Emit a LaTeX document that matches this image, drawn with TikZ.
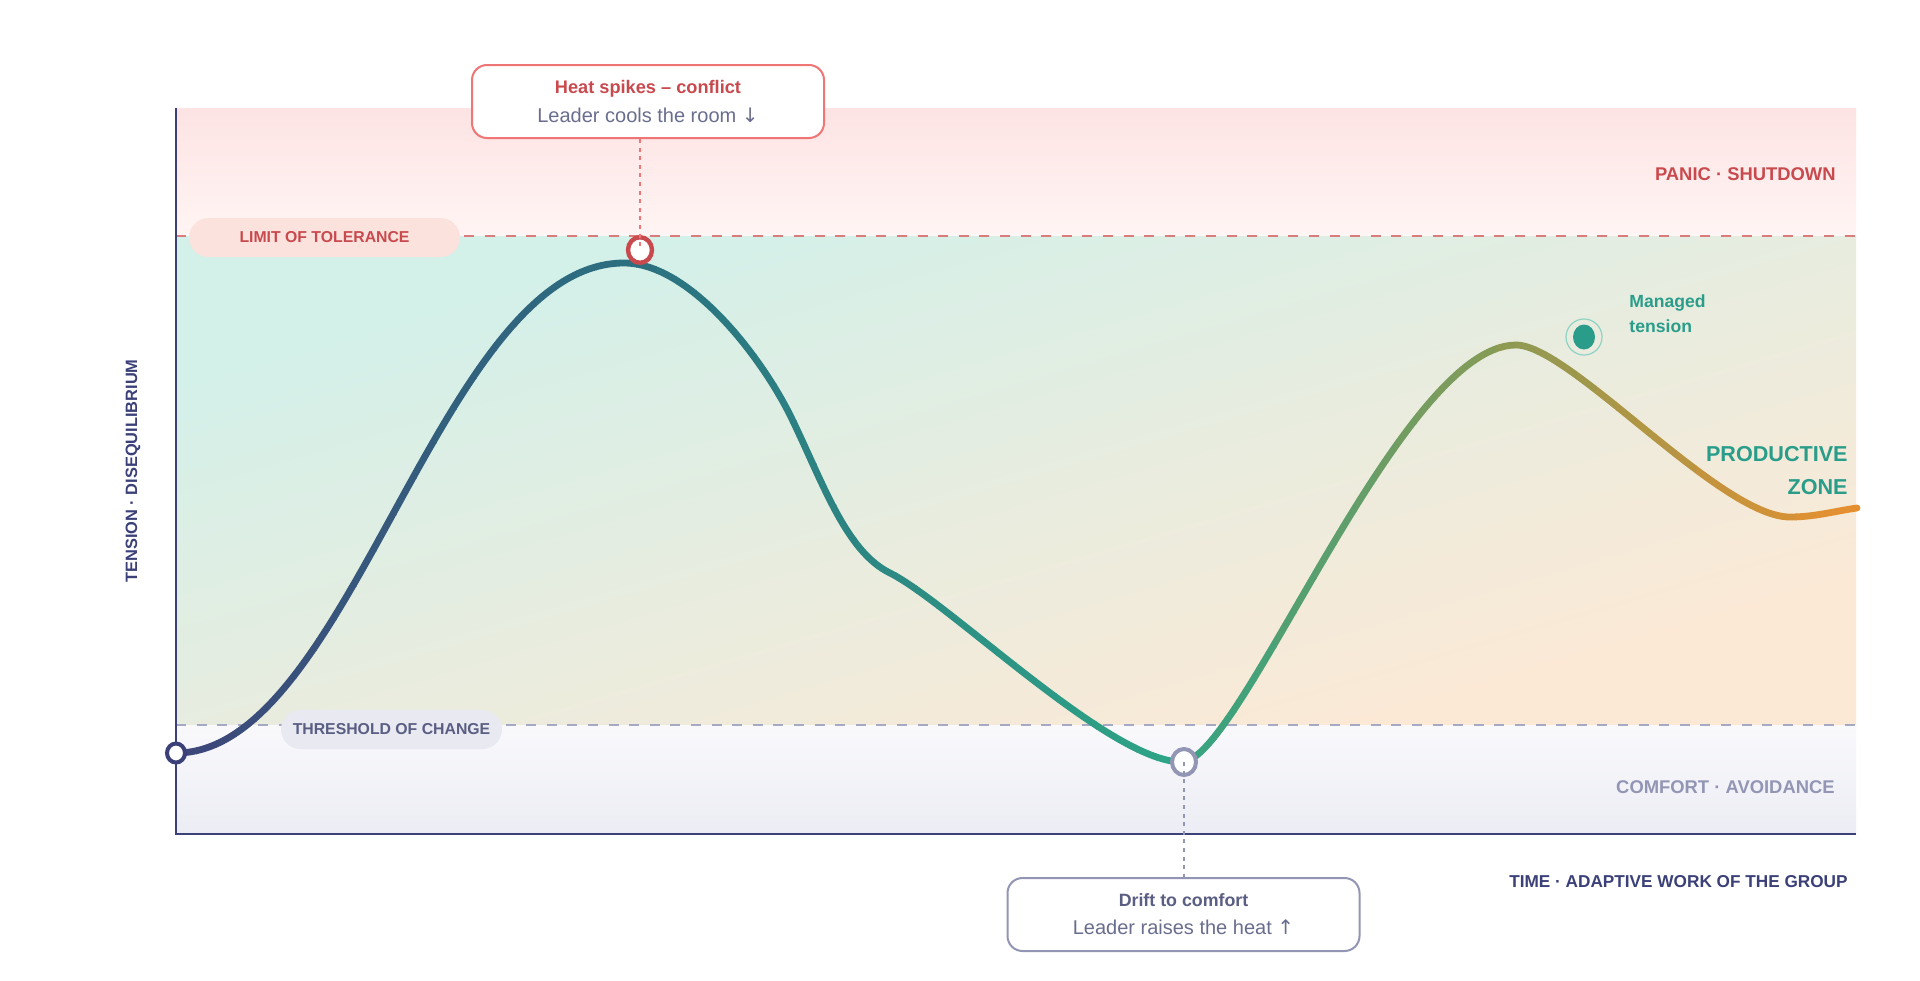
\documentclass[tikz,border=0pt]{standalone}
\usepackage{fontspec}
\setmainfont{Liberation Sans}
\newfontfamily\arrowfont{DejaVu Sans}
\usetikzlibrary{shapes.geometric}

\definecolor{navy}{HTML}{3B4178}
\definecolor{heat}{HTML}{C94A4E}
\definecolor{heatdash}{HTML}{DB7C7C}
\definecolor{heatedge}{HTML}{F07575}
\definecolor{heatpill}{HTML}{FBE2DC}
\definecolor{slate}{HTML}{5A5E82}
\definecolor{dusk}{HTML}{9296B4}
\definecolor{duskdash}{HTML}{A6A9C4}
\definecolor{duskpill}{HTML}{E8E9F1}
\definecolor{ink}{HTML}{6A6E8E}
\definecolor{calm}{HTML}{2A9D8A}
\definecolor{calmring}{HTML}{8ED3C3}
% zone tints
\definecolor{panictop}{HTML}{FDE3E3}
\definecolor{panicbot}{HTML}{FFF5F4}
\definecolor{mint}{HTML}{D3F0E9}
\definecolor{peach}{HTML}{FBE9D6}
\definecolor{comforttop}{HTML}{F9F9FC}
\definecolor{comfortbot}{HTML}{ECEDF4}
% curve colour stops
\definecolor{cA}{HTML}{3D477A}
\definecolor{cB}{HTML}{2B7280}
\definecolor{cC}{HTML}{2EA486}
\definecolor{cD}{HTML}{8E9A52}
\definecolor{cE}{HTML}{EA8F2E}

\def\tensioncurve{(176,753) .. controls (350,753) and (440,263) .. (624,263)
 .. controls (689,263) and (760,355) .. (790,415)
 .. controls (822,480) and (845,551) .. (890,573)
 .. controls (950,603) and (1110,762) .. (1182,762)
 .. controls (1240,762) and (1400,345) .. (1516,345)
 .. controls (1570,345) and (1720,517) .. (1790,517)
 .. controls (1815,517) and (1835,511) .. (1857,508)}

\begin{document}
\begin{tikzpicture}[x=0.5pt, y=-0.5pt]
\tikzstyle{every node}=[inner sep=0pt]
\tikzstyle{caps}=[font=\bfseries\fontsize{9.2}{11}\selectfont]
\tikzstyle{pill}=[rounded corners=9.75pt, minimum height=19.5pt, font=\bfseries\fontsize{7.9}{9}\selectfont]
\tikzstyle{callout}=[draw, line width=1pt, fill=white, rounded corners=7.5pt, minimum width=176pt, minimum height=36.5pt, align=center, font=\fontsize{10}{14}\selectfont]
\tikzstyle{ring}=[draw, fill=white, ellipse, line width=2.2pt]
\tikzstyle{curve}=[line width=3.4pt, line cap=round, line join=round]
\tikzstyle{zoneline}=[line width=1.2pt, dash pattern=on 5pt off 5.3pt]
\tikzstyle{leader}=[line width=1pt, dash pattern=on 2pt off 2.3pt]

\useasboundingbox (0,0) rectangle (1920,980);
\fill[white] (0,0) rectangle (1920,980);

% zones
\shade[top color=panictop, bottom color=panicbot] (176,108) rectangle (1856,236);
\begin{scope}[transform canvas={xscale=3.428571}]
  \shade[top color=mint, bottom color=peach, shading angle=45] (51.333,236) rectangle (541.333,725);
\end{scope}
\shade[top color=comforttop, bottom color=comfortbot] (176,725) rectangle (1856,834);
\draw[zoneline, heatdash] (176,236) -- (1856,236);
\draw[zoneline, duskdash] (176,725) -- (1856,725);
\draw[navy, line width=1.25pt] (176,108) -- (176,834) -- (1856,834);

\node[pill, fill=heatpill, text=heat, minimum width=135.5pt] (limit) at (324.5,237.5) {LIMIT OF TOLERANCE};
\node[pill, fill=duskpill, text=slate, minimum width=110.5pt] (threshold) at (391.5,729.5) {THRESHOLD OF CHANGE};

% curve, coloured strip by strip
\foreach \i in {0,...,83}{
  \pgfmathtruncatemacro{\pc}{(\i+0.5)*100/84}
  \ifnum\pc<28
    \pgfmathtruncatemacro{\pp}{\pc*100/28}\colorlet{seg}{cB!\pp!cA}
  \else\ifnum\pc<58
    \pgfmathtruncatemacro{\pp}{(\pc-28)*100/30}\colorlet{seg}{cC!\pp!cB}
  \else\ifnum\pc<79
    \pgfmathtruncatemacro{\pp}{(\pc-58)*100/21}\colorlet{seg}{cD!\pp!cC}
  \else
    \pgfmathtruncatemacro{\pp}{(\pc-79)*100/21}\colorlet{seg}{cE!\pp!cD}
  \fi\fi\fi
  \pgfmathsetmacro{\xl}{ifthenelse(\i==0,150,176+20*\i)}
  \pgfmathsetmacro{\xr}{ifthenelse(\i==83,1880,196.6+20*\i)}
  \begin{scope}
    \clip (\xl,150) rectangle (\xr,800);
    \draw[curve, seg] \tensioncurve;
  \end{scope}
}

% markers
\node[ring, draw=navy, line width=2pt, minimum width=9pt, minimum height=9.5pt] (start) at (176,753) {};
\node[ring, draw=heat, minimum width=12pt, minimum height=12.8pt] (spike) at (640,250) {};
\node[ring, draw=dusk, line width=2pt, minimum width=12pt, minimum height=13pt] (drift) at (1184,762) {};
\node[ellipse, draw=calmring, line width=0.6pt, minimum size=18pt] (calmring) at (1584,337) {};
\node[ellipse, fill=calm, minimum width=11pt, minimum height=12.5pt] (calm) at (1584,337) {};

% callouts
\node[callout, draw=heatedge] (heatbox) at (648,101.5)
  {{\bfseries\fontsize{9.1}{14}\selectfont\color{heat}Heat spikes – conflict}\\{\color{ink}Leader cools the room {\arrowfont ↓}}};
\node[callout, draw=dusk] (driftbox) at (1183.5,914.5)
  {{\bfseries\fontsize{8.9}{14}\selectfont\color{slate}Drift to comfort}\\{\color{ink}Leader raises the heat {\arrowfont ↑}}};
\draw[leader, heatedge] (heatbox.south -| spike) -- (spike.center);
\draw[leader, dusk] (drift.center) -- (driftbox.north -| drift);
%\draw[leader, calm] (calm) -- (calmring);

% zone and axis labels
\node[caps, text=heat, anchor=base east] (panic) at (1836,180) {PANIC · SHUTDOWN};
\node[caps, text=dusk, anchor=base east] (comfort) at (1835,793) {COMFORT · AVOIDANCE};
\node[caps, text=calm, anchor=north east, align=right, font=\bfseries\fontsize{10.8}{16.5}\selectfont] (zone) at (1848,446) {PRODUCTIVE\\ZONE};
\node[caps, text=calm, anchor=north west, align=left, font=\bfseries\fontsize{8.8}{12.5}\selectfont] (managed) at (1629,294) {Managed\\tension};
\node[caps, text=navy, anchor=base east, font=\bfseries\fontsize{8.6}{10}\selectfont] (xlab) at (1848,887) {TIME · ADAPTIVE WORK OF THE GROUP};
\node[caps, text=navy, anchor=base, rotate=90, font=\bfseries\fontsize{8.2}{10}\selectfont] (ylab) at (137,471) {TENSION · DISEQUILIBRIUM};
\end{tikzpicture}
\end{document}
